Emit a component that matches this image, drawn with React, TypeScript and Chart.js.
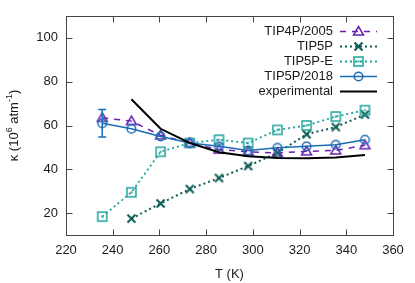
import React, { useEffect, useRef } from 'react';
import { Chart, registerables } from 'chart.js';
Chart.register(...registerables);

// ---- data ----
const temps = [235.5, 248, 260.5, 273, 285.5, 298, 310.5, 323, 335.5, 348];
const tip4p2005 = [63.5, 62, 55.5, 52, 49, 48, 47.5, 48.2, 48.6, 51];
const tip5p = [null, 17.5, 24.4, 31, 36, 41.5, 47.5, 56, 59.3, 65];
const tip5pE = [18.4, 29.5, 48, 52, 53.5, 52, 58, 60, 64.1, 67];
const tip5p2018 = [61, 58.5, 55, 52, 50.5, 48.6, 49.8, 50.5, 51.2, 53.5];
const tip5p2018Err = [6.3, 0, 0, 0, 0, 0, 0, 0, 0, 0];
const expT = [248, 260.5, 273, 285.5, 298, 310.5, 323, 335.5, 348];
const expK = [72, 58.5, 52, 47.8, 46, 45.2, 45, 45.4, 46.5];
const xTicks = [220, 240, 260, 280, 300, 320, 340, 360];
const yTicks = [20, 40, 60, 80, 100];
const seriesNames = ['TIP4P/2005', 'TIP5P', 'TIP5P-E', 'TIP5P/2018', 'experimental'];

const FONT = "'Liberation Sans', Arial, sans-serif";
const TXT = '#1a1a1a';
const FRAME = '#444444';
const C_4P = '#6a1fb0';
const C_5P = '#0e5c55';
const C_5PE = '#1ba39c';
const C_2018 = '#1a6db5';
const C_EXP = '#000000';

function makeMarker(kind: string, color: string) {
  const c = document.createElement('canvas');
  c.width = 15;
  c.height = 15;
  const ctx = c.getContext('2d')!;
  ctx.strokeStyle = color;
  ctx.fillStyle = color;
  ctx.lineWidth = 1.5;
  const m = 7.5;
  if (kind === 'circle') {
    ctx.beginPath();
    ctx.arc(m, m, 4.3, 0, Math.PI * 2);
    ctx.stroke();
  } else if (kind === 'triangle') {
    ctx.beginPath();
    ctx.moveTo(m, m - 5);
    ctx.lineTo(m + 5, m + 3.5);
    ctx.lineTo(m - 5, m + 3.5);
    ctx.closePath();
    ctx.stroke();
  } else if (kind === 'cross') {
    ctx.lineWidth = 2;
    ctx.beginPath();
    ctx.moveTo(m - 4, m - 4);
    ctx.lineTo(m + 4, m + 4);
    ctx.moveTo(m + 4, m - 4);
    ctx.lineTo(m - 4, m + 4);
    ctx.stroke();
  } else if (kind === 'square') {
    ctx.strokeRect(m - 4.5, m - 4.5, 9, 9);
    ctx.fillRect(m - 1, m - 1, 2, 2);
  }
  return c;
}

function pts(xs: number[], ys: (number | null)[]) {
  const out: { x: number; y: number }[] = [];
  xs.forEach((t, i) => {
    const v = ys[i];
    if (v !== null && v !== undefined) out.push({ x: t, y: v });
  });
  return out;
}

export default function App() {
  const ref = useRef<HTMLCanvasElement | null>(null);

  useEffect(() => {
    if (!ref.current) return;
    const markers = [
      makeMarker('triangle', C_4P),
      makeMarker('cross', C_5P),
      makeMarker('square', C_5PE),
      makeMarker('circle', C_2018),
      null,
    ];
    const colors = [C_4P, C_5P, C_5PE, C_2018, C_EXP];
    const dashes = [[6, 6], [2, 3], [2, 3], [], []];
    const widths = [1.5, 2, 1.8, 1.5, 2];

    const deco = {
      id: 'deco',
      afterDatasetsDraw(chart: any) {
        const { ctx, chartArea: a, scales } = chart;
        const xs = scales.x;
        const ys = scales.y;
        ctx.save();
        // error bars
        ctx.strokeStyle = C_2018;
        ctx.lineWidth = 1.5;
        temps.forEach((t, i) => {
          const e = tip5p2018Err[i];
          if (!e) return;
          const px = xs.getPixelForValue(t);
          const y1 = ys.getPixelForValue(tip5p2018[i] - e);
          const y2 = ys.getPixelForValue(tip5p2018[i] + e);
          ctx.beginPath();
          ctx.moveTo(px, y1);
          ctx.lineTo(px, y2);
          ctx.moveTo(px - 4, y1);
          ctx.lineTo(px + 4, y1);
          ctx.moveTo(px - 4, y2);
          ctx.lineTo(px + 4, y2);
          ctx.stroke();
        });

        // frame
        const L = Math.round(a.left) + 0.5;
        const R = Math.round(a.right) + 0.5;
        const T = Math.round(a.top) + 0.5;
        const B = Math.round(a.bottom) + 0.5;
        ctx.strokeStyle = FRAME;
        ctx.lineWidth = 1;
        ctx.setLineDash([]);
        ctx.strokeRect(L, T, R - L, B - T);
        ctx.beginPath();
        xTicks.forEach((v) => {
          if (v === xs.min || v === xs.max) return;
          const px = Math.round(xs.getPixelForValue(v)) + 0.5;
          ctx.moveTo(px, B);
          ctx.lineTo(px, B - 6);
          ctx.moveTo(px, T);
          ctx.lineTo(px, T + 6);
        });
        yTicks.forEach((v) => {
          const py = Math.round(ys.getPixelForValue(v)) + 0.5;
          ctx.moveTo(L, py);
          ctx.lineTo(L + 6, py);
          ctx.moveTo(R, py);
          ctx.lineTo(R - 6, py);
        });
        ctx.stroke();

        // axis titles
        ctx.fillStyle = TXT;
        ctx.font = `13px ${FONT}`;
        ctx.textAlign = 'center';
        ctx.textBaseline = 'middle';
        ctx.fillText('T (K)', (a.left + a.right) / 2, 274);

        const parts: [string, boolean][] = [
          ['κ (10', false],
          ['6', true],
          [' atm', false],
          ['-1', true],
          [')', false],
        ];
        const big = `13px ${FONT}`;
        const small = `9px ${FONT}`;
        let total = 0;
        parts.forEach(([s, sup]) => {
          ctx.font = sup ? small : big;
          total += ctx.measureText(s).width;
        });
        ctx.save();
        ctx.translate(13, (a.top + a.bottom) / 2);
        ctx.rotate(-Math.PI / 2);
        ctx.textAlign = 'left';
        ctx.textBaseline = 'alphabetic';
        let cx = -total / 2;
        parts.forEach(([s, sup]) => {
          ctx.font = sup ? small : big;
          ctx.fillText(s, cx, sup ? -1 : 4.5);
          cx += ctx.measureText(s).width;
        });
        ctx.restore();

        // legend
        ctx.font = `13px ${FONT}`;
        ctx.textAlign = 'right';
        ctx.textBaseline = 'middle';
        seriesNames.forEach((name, i) => {
          const ly = Math.round(30.5 + i * 15.1) + 0.5;
          ctx.fillStyle = TXT;
          ctx.fillText(name, 333, ly);
          ctx.strokeStyle = colors[i];
          ctx.lineWidth = widths[i];
          ctx.setLineDash(dashes[i]);
          ctx.beginPath();
          ctx.moveTo(340, ly);
          ctx.lineTo(377, ly);
          ctx.stroke();
          ctx.setLineDash([]);
          const mk = markers[i];
          if (mk) ctx.drawImage(mk, 358.5 - 7.5, ly - 7.5);
        });
        ctx.restore();
      },
    };

    const ds = (
      label: string,
      data: any[],
      i: number,
      order: number
    ) => ({
      label,
      data,
      borderColor: colors[i],
      backgroundColor: colors[i],
      borderWidth: widths[i],
      borderDash: dashes[i],
      pointStyle: markers[i] || 'circle',
      pointRadius: markers[i] ? 5 : 0,
      tension: 0,
      fill: false,
      order,
    });

    const chart = new Chart(ref.current, {
      type: 'line',
      data: {
        datasets: [
          ds(seriesNames[0], pts(temps, tip4p2005), 0, 5),
          ds(seriesNames[1], pts(temps, tip5p), 1, 4),
          ds(seriesNames[2], pts(temps, tip5pE), 2, 3),
          ds(seriesNames[3], pts(temps, tip5p2018), 3, 2),
          ds(seriesNames[4], pts(expT, expK), 4, 1),
        ],
      },
      options: {
        animation: false,
        responsive: false,
        layout: { padding: { left: 0, top: 16, right: 22, bottom: 0 } },
        plugins: { legend: { display: false }, tooltip: { enabled: false } },
        scales: {
          x: {
            type: 'linear',
            min: 220,
            max: 360,
            afterFit: (s: any) => {
              s.height = 48;
            },
            afterBuildTicks: (s: any) => {
              s.ticks = xTicks.map((v) => ({ value: v }));
            },
            grid: { display: false, drawTicks: false },
            border: { display: false },
            ticks: {
              padding: 8,
              color: TXT,
              font: { family: FONT, size: 13 },
              maxRotation: 0,
              autoSkip: false,
            },
          },
          y: {
            type: 'linear',
            min: 10,
            max: 110,
            afterFit: (s: any) => {
              s.width = 66;
            },
            afterBuildTicks: (s: any) => {
              s.ticks = yTicks.map((v) => ({ value: v }));
            },
            grid: { display: false, drawTicks: false },
            border: { display: false },
            ticks: {
              padding: 8,
              color: TXT,
              font: { family: FONT, size: 13 },
              autoSkip: false,
            },
          },
        },
      },
      plugins: [deco],
    } as any);
    return () => chart.destroy();
  }, []);

  return (
    <div style={{ position: 'fixed', left: 0, top: 0, width: 415, height: 283 }}>
      <canvas ref={ref} width={415} height={283} />
    </div>
  );
}
